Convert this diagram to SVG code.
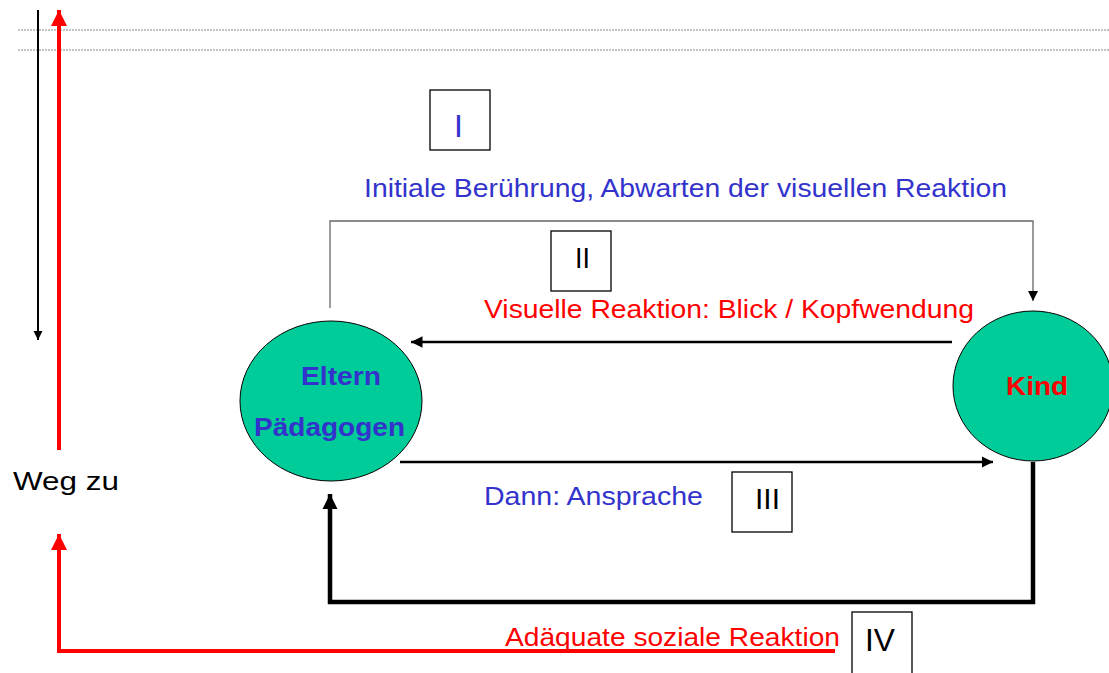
<svg xmlns="http://www.w3.org/2000/svg" width="1109" height="673" viewBox="0 0 1109 673">
  <style>
    text { font-family: "Liberation Sans", Arial, sans-serif; }
    .lbl { font-size: 25px; }
    .num { font-size: 30px; }
    .blue { fill: #3333CC; }
    .red { fill: #FF0000; }
    .blk { fill: #000000; }
    .node { font-size: 25px; font-weight: bold; }
    .box { fill: #FFFFFF; stroke: #000000; stroke-width: 1.3; }
    .ell { fill: #00CC99; stroke: #000000; stroke-width: 1; }
    .guide { stroke: #888888; stroke-width: 1; stroke-dasharray: 2 1; fill: none; }
  </style>
  <defs>
    <marker id="headBlack" viewBox="0 0 10 10" refX="10" refY="5" markerWidth="4.6" markerHeight="4.6" orient="auto" markerUnits="strokeWidth">
      <path d="M0,0 L10,5 L0,10 z" fill="#000000"/>
    </marker>
    <marker id="headThick" viewBox="0 0 10 10" refX="10" refY="5" markerWidth="3.4" markerHeight="3.4" orient="auto" markerUnits="strokeWidth">
      <path d="M0,0 L10,5 L0,10 z" fill="#000000"/>
    </marker>
    <marker id="headThin" viewBox="0 0 10 10" refX="10" refY="5" markerWidth="8" markerHeight="8" orient="auto" markerUnits="strokeWidth">
      <path d="M0,0 L10,5 L0,10 z" fill="#000000"/>
    </marker>
    <marker id="headRed" viewBox="0 0 10 10" refX="10" refY="5" markerWidth="4" markerHeight="4" orient="auto" markerUnits="strokeWidth">
      <path d="M0,0 L10,5 L0,10 z" fill="#FF0000"/>
    </marker>
  </defs>

  <rect x="0" y="0" width="1109" height="673" fill="#FFFFFF"/>

  <!-- dotted guide lines -->
  <line class="guide" x1="18" y1="30" x2="1109" y2="30"/>
  <line class="guide" x1="18" y1="50" x2="1109" y2="50"/>

  <!-- connectors -->
  <g id="connectors" fill="none">
    <!-- left side: downward path and red upward path -->
    <line x1="38" y1="10" x2="38" y2="340" stroke="#000000" stroke-width="2" marker-end="url(#headBlack)"/>
    <line x1="59" y1="450" x2="59" y2="10" stroke="#FF0000" stroke-width="4" marker-end="url(#headRed)"/>
    <!-- bottom red return path -->
    <polyline points="835,651 59,651 59,534" stroke="#FF0000" stroke-width="4" stroke-linejoin="miter" marker-end="url(#headRed)"/>
    <!-- I: initial touch -->
    <polyline points="330,308 330,221 1033,221 1033,301" stroke="#666666" stroke-width="1.3" marker-end="url(#headThin)"/>
    <!-- II: visual reaction -->
    <line x1="952" y1="342" x2="411" y2="342" stroke="#000000" stroke-width="2.5" marker-end="url(#headBlack)"/>
    <!-- III: address -->
    <line x1="400" y1="462" x2="993" y2="462" stroke="#000000" stroke-width="2.5" marker-end="url(#headBlack)"/>
    <!-- IV: social reaction -->
    <polyline points="1033,462 1033,602 330,602 330,494" stroke="#000000" stroke-width="4.5" stroke-linejoin="miter" marker-end="url(#headThick)"/>
  </g>

  <!-- nodes -->
  <g id="node-eltern">
    <ellipse class="ell" cx="331" cy="401" rx="91" ry="80"/>
    <text class="node blue" x="301" y="385" textLength="80" lengthAdjust="spacingAndGlyphs">Eltern</text>
    <text class="node blue" x="254" y="436" textLength="151" lengthAdjust="spacingAndGlyphs">Pädagogen</text>
  </g>
  <g id="node-kind">
    <ellipse class="ell" cx="1033" cy="386" rx="80" ry="75"/>
    <text class="node red" x="1006" y="395" textLength="62" lengthAdjust="spacingAndGlyphs">Kind</text>
  </g>

  <!-- step boxes -->
  <g id="step-1">
    <rect class="box" x="430" y="90" width="60" height="60"/>
    <text class="num blue" x="454" y="137" style="font-size:32px">I</text>
  </g>
  <g id="step-2">
    <rect class="box" x="551" y="231" width="60" height="60"/>
    <text class="num blk" x="575" y="268" textLength="15" lengthAdjust="spacingAndGlyphs">II</text>
  </g>
  <g id="step-3">
    <rect class="box" x="732" y="472" width="60" height="60"/>
    <text class="num blk" x="755" y="509" textLength="25" lengthAdjust="spacingAndGlyphs">III</text>
  </g>
  <g id="step-4">
    <rect class="box" x="852" y="612" width="60" height="70"/>
    <text class="num blk" x="865" y="651" textLength="30" lengthAdjust="spacingAndGlyphs" style="font-size:32px">IV</text>
  </g>

  <!-- labels -->
  <g id="labels">
    <text class="lbl blue" x="364" y="197" textLength="643" lengthAdjust="spacingAndGlyphs">Initiale Berührung, Abwarten der visuellen Reaktion</text>
    <text class="lbl red" x="484" y="318" textLength="490" lengthAdjust="spacingAndGlyphs">Visuelle Reaktion: Blick / Kopfwendung</text>
    <text class="lbl blue" x="484" y="505" textLength="219" lengthAdjust="spacingAndGlyphs">Dann: Ansprache</text>
    <text class="lbl red" x="505" y="646" textLength="335" lengthAdjust="spacingAndGlyphs">Adäquate soziale Reaktion</text>
    <text class="lbl blk" x="13" y="490" textLength="106" lengthAdjust="spacingAndGlyphs">Weg zu</text>
  </g>
</svg>
